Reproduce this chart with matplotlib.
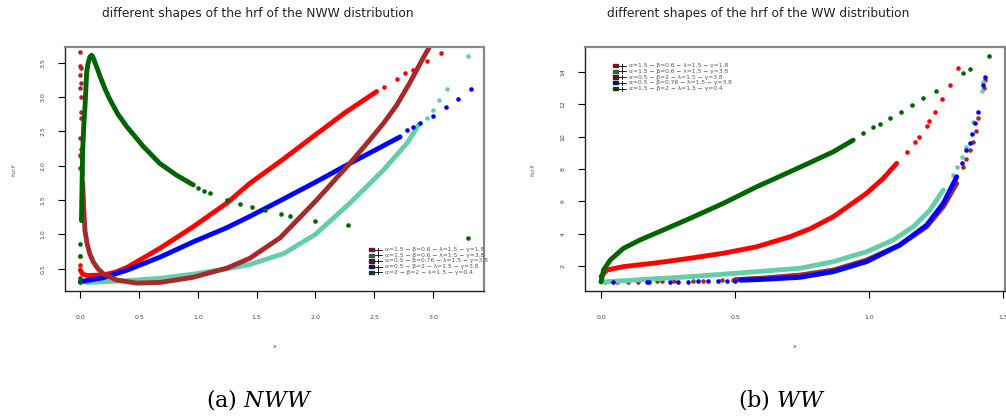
import matplotlib
matplotlib.use("Agg")
import matplotlib.pyplot as plt
from matplotlib.patches import Rectangle
from matplotlib.lines import Line2D

plt.rcParams["mathtext.fontset"] = "dejavuserif"

W, H = 1006, 417

# ---- NWW panel (left) ----
nww_red_x = [0.0, 0.02, 0.06, 0.2, 0.3, 0.4, 0.68, 0.96, 1.25, 1.44, 1.73, 2.0, 2.25, 2.52]
nww_red_y = [0.48, 0.42, 0.40, 0.41, 0.45, 0.52, 0.80, 1.11, 1.46, 1.74, 2.10, 2.45, 2.77, 3.08]
nww_red_dx = [0.0, 0.0, 0.0, 0.0, 2.58, 2.69, 2.76, 2.83, 2.95, 3.065]
nww_red_dy = [2.16, 1.97, 0.68, 0.55, 3.15, 3.26, 3.35, 3.40, 3.53, 3.64]

nww_blue_x = [0.0, 0.03, 0.2, 0.4, 0.68, 0.96, 1.25, 1.44, 1.7, 2.0, 2.3, 2.5, 2.72]
nww_blue_y = [0.31, 0.32, 0.37, 0.48, 0.67, 0.89, 1.10, 1.26, 1.49, 1.76, 2.04, 2.22, 2.42]
nww_blue_dx = [2.776, 2.83, 2.89, 3.00, 3.11, 3.21, 3.32]
nww_blue_dy = [2.52, 2.56, 2.62, 2.72, 2.86, 2.97, 3.12]

nww_teal_x = [0.05, 0.2, 0.4, 0.68, 0.96, 1.25, 1.44, 1.73, 2.0, 2.29, 2.58, 2.78, 2.88]
nww_teal_y = [0.30, 0.31, 0.325, 0.36, 0.42, 0.50, 0.56, 0.72, 1.00, 1.45, 1.94, 2.33, 2.60]
nww_teal_dx = [0.0, 2.95, 3.00, 3.05, 3.12, 3.30]
nww_teal_dy = [0.30, 2.70, 2.81, 2.96, 3.11, 3.60]

nww_brown_x = [0.02, 0.03, 0.04, 0.06, 0.08, 0.11, 0.15, 0.2, 0.31, 0.48, 0.68, 0.96,
               1.25, 1.44, 1.70, 2.01, 2.29, 2.44, 2.58, 2.69, 2.80, 2.92, 2.98]
nww_brown_y = [1.75, 1.35, 1.05, 0.85, 0.72, 0.60, 0.50, 0.42, 0.335, 0.29, 0.30, 0.375,
               0.51, 0.65, 0.95, 1.50, 2.03, 2.33, 2.62, 2.88, 3.20, 3.58, 3.76]
nww_brown_dx = [0.0, 0.0, 0.003, 0.0, 0.005, 0.0, 0.003, 0.006, 0.004, 0.0, 0.006, 0.008, 0.01, 0.012]
nww_brown_dy = [3.65, 3.45, 3.42, 3.32, 3.20, 3.13, 3.0, 2.78, 2.70, 2.40, 2.25, 2.13, 1.97, 1.88]

nww_green_x = [0.01, 0.015, 0.02, 0.03, 0.04, 0.054, 0.065, 0.08, 0.097, 0.11, 0.13, 0.15,
               0.168, 0.21, 0.253, 0.32, 0.395, 0.536, 0.678, 0.82, 0.961]
nww_green_y = [1.2, 1.7, 2.2, 2.6, 2.86, 3.35, 3.48, 3.58, 3.61, 3.57, 3.48, 3.39,
               3.30, 3.12, 2.96, 2.75, 2.57, 2.28, 2.03, 1.86, 1.72]
nww_green_dx = [0.0, 0.0, 0.0, 0.0, 1.0, 1.05, 1.10, 1.245, 1.36, 1.46, 1.57, 1.71, 1.78, 2.0, 2.28, 3.30]
nww_green_dy = [0.30, 0.36, 0.69, 0.86, 1.67, 1.63, 1.60, 1.50, 1.44, 1.40, 1.35, 1.30, 1.27, 1.20, 1.13, 0.95]

# ---- WW panel (right) ----
ww_green_x = [0.0, 0.009, 0.034, 0.083, 0.145, 0.208, 0.332, 0.456, 0.58, 0.704, 0.779, 0.866, 0.94]
ww_green_y = [1.03, 1.75, 2.37, 3.09, 3.61, 4.06, 4.95, 5.88, 6.90, 7.83, 8.40, 9.07, 9.79]
ww_green_dx = [0.978, 1.015, 1.04, 1.077, 1.12, 1.16, 1.20, 1.249, 1.348, 1.375, 1.446]
ww_green_dy = [10.2, 10.58, 10.78, 11.13, 11.54, 11.94, 12.37, 12.84, 13.92, 14.2, 15.0]

ww_red_x = [0.0, 0.021, 0.083, 0.208, 0.332, 0.456, 0.58, 0.704, 0.779, 0.866, 0.99, 1.052, 1.102]
ww_red_y = [1.35, 1.75, 1.96, 2.2, 2.48, 2.79, 3.19, 3.81, 4.30, 5.05, 6.5, 7.42, 8.35]
ww_red_dx = [1.139, 1.17, 1.185, 1.214, 1.224, 1.245, 1.272, 1.30, 1.33]
ww_red_dy = [9.07, 9.69, 10.0, 10.68, 10.97, 11.54, 12.31, 13.21, 14.23]

ww_teal_x = [0.0, 0.083, 0.332, 0.58, 0.742, 0.866, 0.99, 1.089, 1.164, 1.226, 1.276]
ww_teal_y = [1.0, 1.09, 1.34, 1.65, 1.86, 2.27, 2.88, 3.61, 4.43, 5.46, 6.70]
ww_teal_dx = [1.313, 1.328, 1.344, 1.359, 1.385, 1.419, 1.423]
ww_teal_dy = [7.63, 8.14, 8.76, 9.38, 10.92, 12.84, 13.4]

ww_brown_x = [0.5, 0.6, 0.742, 0.866, 0.99, 1.114, 1.214, 1.276, 1.326]
ww_brown_y = [1.16, 1.25, 1.44, 1.75, 2.37, 3.30, 4.43, 5.67, 7.11]
ww_brown_dx = [0.015, 0.058, 0.102, 0.139, 0.208, 0.226, 0.27, 0.344, 0.381, 0.45, 0.493,
               1.35, 1.362, 1.375, 1.388, 1.397, 1.406, 1.427, 1.432]
ww_brown_dy = [1.0, 1.01, 1.02, 1.03, 1.05, 1.05, 1.06, 1.08, 1.09, 1.12, 1.14,
               8.14, 8.6, 9.17, 9.69, 10.37, 11.13, 12.99, 13.50]

ww_blue_x = [0.52, 0.6, 0.742, 0.866, 0.99, 1.114, 1.214, 1.276, 1.326]
ww_blue_y = [1.12, 1.17, 1.30, 1.65, 2.27, 3.30, 4.53, 5.88, 7.52]
ww_blue_dx = [0.046, 0.17, 0.18, 0.257, 0.288, 0.325, 0.363, 0.40, 0.437, 0.468, 0.5,
              1.344, 1.359, 1.375, 1.384, 1.394, 1.406, 1.425, 1.431]
ww_blue_dy = [0.98, 1.0, 1.0, 1.02, 1.03, 1.04, 1.05, 1.06, 1.07, 1.08, 1.1,
              8.35, 9.17, 9.63, 10.16, 10.82, 11.54, 13.19, 13.67]

nww_labels = ["α=1.5 − β=0.6 − λ=1.5 − γ=1.8",
              "α=1.5 − β=0.6 − λ=1.5 − γ=3.8",
              "α=0.5 − β=0.76 − λ=1.5 − γ=3.8",
              "α=0.5 − β=2 − λ=1.5 − γ=3.8",
              "α=2 − β=2 − λ=1.5 − γ=0.4"]
ww_labels = ["α=1.5 − β=0.6 − λ=1.5 − γ=1.8",
             "α=1.5 − β=0.6 − λ=1.5 − γ=3.8",
             "α=0.5 − β=2 − λ=1.5 − γ=3.8",
             "α=0.5 − β=0.76 − λ=1.5 − γ=3.8",
             "α=1.5 − β=2 − λ=1.5 − γ=0.4"]
legend_cols = ["#6a1c1c", "#2e5e50", "#4e1a1a", "#14145a", "#103a10"]

RED, BLUE, GREEN, BROWN, TEAL = "#FF0000", "#0000FF", "#006400", "#A52A2A", "#66CDAA"


def curve(ax, x, y, dx, dy, col):
    ax.plot(x, y, color=col, lw=3.5, solid_capstyle="round", solid_joinstyle="round", zorder=2)
    ax.plot(dx, dy, "o", color=col, ms=3.3, mew=0, zorder=2)


def style(ax, xt, yt, yfmt):
    ax.set_xticks(xt)
    ax.set_yticks(yt)
    ax.set_xticklabels([f"{v:.1f}" for v in xt])
    ax.set_yticklabels([yfmt(v) for v in yt], rotation=90, va="center")
    ax.tick_params(direction="out", length=5, width=0.8, labelsize=4.5,
                   labelcolor="#444444", pad=9)
    ax.tick_params(axis="x", pad=12)
    for s in ("left", "bottom"):
        ax.spines[s].set_color("#222222")
        ax.spines[s].set_linewidth(1.0)
    for s in ("top", "right"):
        ax.spines[s].set_color("#888888")
        ax.spines[s].set_linewidth(1.6)


def legend(rows_px, sq_x, labels):
    for i, (lab, c) in enumerate(zip(labels, legend_cols)):
        fy = 1 - rows_px[i] / H
        fig.patches.append(Rectangle((sq_x / W, fy - 1.6 / H), 5 / W, 3.2 / H,
                                     transform=fig.transFigure, color=c, zorder=5))
        fig.lines.append(Line2D([(sq_x + 5) / W, (sq_x + 13) / W], [fy, fy],
                                transform=fig.transFigure, color="black", lw=0.6, zorder=5))
        fig.lines.append(Line2D([(sq_x + 9) / W] * 2, [fy - 2 / H, fy + 2 / H],
                                transform=fig.transFigure, color="black", lw=0.6, zorder=5))
        fig.text((sq_x + 16) / W, fy, lab, fontsize=4.3, color="#555555", va="center",
                 family="DejaVu Sans")


fig = plt.figure(figsize=(W / 100, H / 100), dpi=100)
bottom = 1 - 291 / H
height = (291 - 46.7) / H
ax1 = fig.add_axes([65 / W, bottom, (483.6 - 65) / W, height])
ax2 = fig.add_axes([585 / W, bottom, (1005 - 585) / W, height])

curve(ax1, nww_teal_x, nww_teal_y, nww_teal_dx, nww_teal_dy, TEAL)
curve(ax1, nww_red_x, nww_red_y, nww_red_dx, nww_red_dy, RED)
curve(ax1, nww_blue_x, nww_blue_y, nww_blue_dx, nww_blue_dy, BLUE)
curve(ax1, nww_brown_x, nww_brown_y, nww_brown_dx, nww_brown_dy, BROWN)
curve(ax1, nww_green_x, nww_green_y, nww_green_dx, nww_green_dy, GREEN)
ax1.set_xlim(-0.13, 3.43)
ax1.set_ylim(0.175, 3.733)
style(ax1, [0.0, 0.5, 1.0, 1.5, 2.0, 2.5, 3.0], [0.5, 1.0, 1.5, 2.0, 2.5, 3.0, 3.5],
      lambda v: f"{v:.1f}")

curve(ax2, ww_brown_x, ww_brown_y, ww_brown_dx, ww_brown_dy, BROWN)
curve(ax2, ww_teal_x, ww_teal_y, ww_teal_dx, ww_teal_dy, TEAL)
curve(ax2, ww_blue_x, ww_blue_y, ww_blue_dx, ww_blue_dy, BLUE)
curve(ax2, ww_red_x, ww_red_y, ww_red_dx, ww_red_dy, RED)
curve(ax2, ww_green_x, ww_green_y, ww_green_dx, ww_green_dy, GREEN)
ax2.set_xlim(-0.06, 1.506)
ax2.set_ylim(0.454, 15.57)
style(ax2, [0.0, 0.5, 1.0, 1.5], [2, 4, 6, 8, 10, 12, 14], lambda v: str(v))

legend([249.5, 255.2, 260.9, 266.6, 272.3], 369, nww_labels)
legend([65.7, 71.4, 77.1, 82.8, 88.5], 613, ww_labels)

title_kw = dict(fontsize=8.8, ha="center", va="center", color="#222222")
fig.text(258 / W, 1 - 14 / H, "different shapes of the hrf of the NWW distribution", **title_kw)
fig.text(758 / W, 1 - 14 / H, "different shapes of the hrf of the WW distribution", **title_kw)

lab_kw = dict(fontsize=4.5, ha="center", va="center", color="#444444")
fig.text(274.3 / W, 1 - 347 / H, "x", **lab_kw)
fig.text(795 / W, 1 - 347 / H, "x", **lab_kw)
fig.text(14 / W, 1 - 170 / H, "h.r.f", rotation=90, **lab_kw)
fig.text(533 / W, 1 - 170 / H, "h.r.f", rotation=90, **lab_kw)

cap_kw = dict(fontsize=16, ha="center", va="center", family="DejaVu Serif")
fig.text(259 / W, 1 - 400 / H, r"(a) $NWW$", **cap_kw)
fig.text(782 / W, 1 - 400 / H, r"(b) $WW$", **cap_kw)

fig.savefig("out.png", dpi=100)
